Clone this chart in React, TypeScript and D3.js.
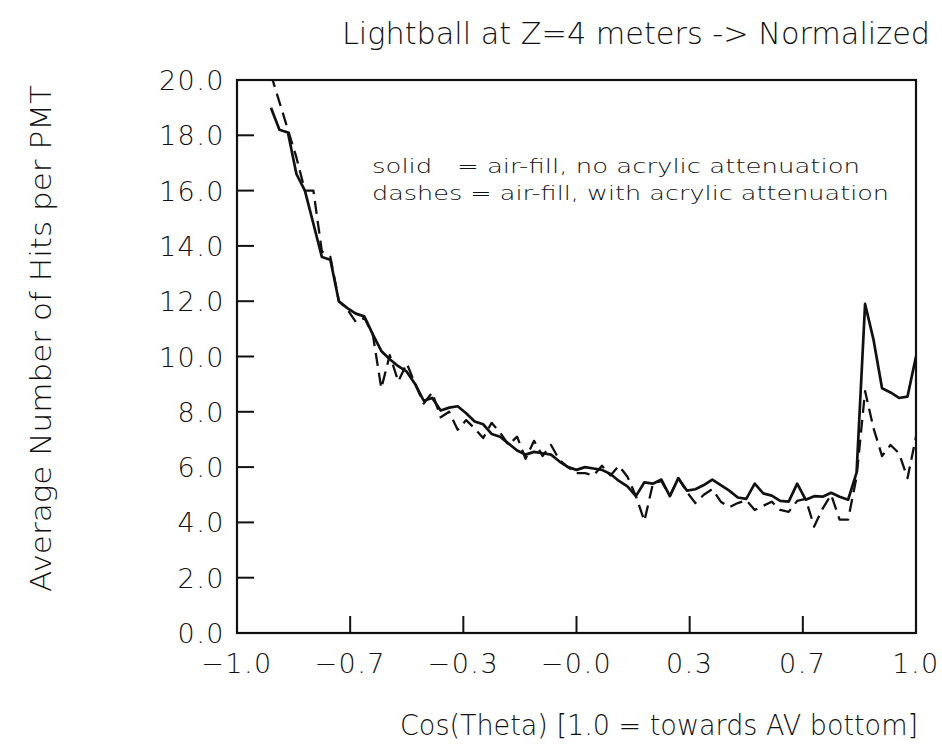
import React from "react";
import * as d3 from "d3";

const cosTheta = [
  -0.9, -0.875, -0.85, -0.825, -0.8, -0.775, -0.75, -0.725, -0.7, -0.675,
  -0.65, -0.625, -0.6, -0.575, -0.55, -0.525, -0.5, -0.475, -0.45, -0.425,
  -0.4, -0.375, -0.35, -0.325, -0.3, -0.275, -0.25, -0.225, -0.2, -0.175,
  -0.15, -0.125, -0.1, -0.075, -0.05, -0.025, 0.0, 0.025, 0.05, 0.075,
  0.1, 0.125, 0.15, 0.175, 0.2, 0.225, 0.25, 0.275, 0.3, 0.325,
  0.35, 0.375, 0.4, 0.425, 0.45, 0.475, 0.5, 0.525, 0.55, 0.575,
  0.6, 0.625, 0.65, 0.675, 0.7, 0.725, 0.75, 0.775, 0.8, 0.825,
  0.85, 0.875, 0.9, 0.925, 0.95, 0.975, 1.0,
];

const solidNoAttenuation = [
  19.0, 18.2, 18.1, 16.6, 16.0, 14.8, 13.6, 13.5, 12.0, 11.75,
  11.55, 11.45, 10.8, 10.2, 9.9, 9.65, 9.45, 9.0, 8.4, 8.5,
  8.05, 8.15, 8.2, 7.95, 7.65, 7.55, 7.2, 7.1, 6.85, 6.6,
  6.45, 6.55, 6.5, 6.45, 6.2, 6.0, 5.9, 6.0, 5.95, 5.9,
  5.75, 5.5, 5.3, 4.95, 5.45, 5.4, 5.55, 4.95, 5.6, 5.15,
  5.2, 5.35, 5.55, 5.35, 5.15, 4.9, 4.85, 5.4, 5.05, 4.97,
  4.78, 4.75, 5.4, 4.82, 4.95, 4.93, 5.07, 4.93, 4.82, 5.8,
  11.9, 10.6, 8.85, 8.7, 8.5, 8.55, 10.0,
];

const dashedWithAttenuation = [
  20.2, 19.2, 18.2, 17.2, 16.0, 16.0, 13.8, 13.6, 12.0, 11.7,
  11.25, 11.4, 10.8, 8.85, 10.05, 9.1, 9.75, 9.0, 8.3, 8.7,
  7.8, 8.0, 7.35, 7.7, 7.4, 7.05, 7.6, 7.25, 6.8, 7.1,
  6.3, 6.95, 6.4, 6.8, 6.25, 6.0, 5.78, 5.78, 5.7, 6.05,
  5.7, 6.05, 5.65, 4.95, 4.05, 5.4, 5.5, 4.95, 5.6, 5.1,
  4.7, 5.0, 5.2, 4.75, 4.55, 4.7, 4.8, 4.45, 4.6, 4.75,
  4.45, 4.38, 4.78, 4.85, 3.85, 4.5, 5.0, 4.1, 4.1, 5.65,
  8.75, 7.4, 6.4, 6.8, 6.5, 5.6, 7.1,
];

const xTickValues = [-1, -2 / 3, -1 / 3, 0, 1 / 3, 2 / 3, 1];
const xTickLabels = ["\u22121.0", "\u22120.7", "\u22120.3", "\u22120.0", "0.3", "0.7", "1.0"];
const yTickValues = [0, 2, 4, 6, 8, 10, 12, 14, 16, 18, 20];
const yTickLabels = ["0.0", "2.0", "4.0", "6.0", "8.0", "10.0", "12.0", "14.0", "16.0", "18.0", "20.0"];

const titleText = "Lightball at Z=4 meters -> Normalized";
const xAxisTitle = "Cos(Theta) [1.0 = towards AV bottom]";
const yAxisTitle = "Average Number of Hits per PMT";
const legendSolid = "solid   = air-fill, no acrylic attenuation";
const legendDashed = "dashes = air-fill, with acrylic attenuation";

const FONT = "'DejaVu Sans', 'Liberation Sans', sans-serif";

export default function App() {
  const left = 237, right = 916, top = 80, bottom = 633;
  const x = d3.scaleLinear().domain([-1, 1]).range([left, right]);
  const y = d3.scaleLinear().domain([0, 20]).range([bottom, top]);
  const line = d3
    .line<number>()
    .x((_, i) => x(cosTheta[i]))
    .y((d) => y(d));
  const tickLen = 17;

  return (
    <svg
      width={942}
      height={755}
      style={{ position: "absolute", left: 0, top: 0, background: "#fff" }}
      fontFamily={FONT}
    >
      <defs>
        <clipPath id="plotClip">
          <rect x={left} y={top} width={right - left} height={bottom - top} />
        </clipPath>
      </defs>
      <rect x={0} y={0} width={942} height={755} fill="#fff" />

      {/* Title */}
      <text x={342} y={44} fontSize={30} fontWeight={200} textLength={588} lengthAdjust="spacingAndGlyphs" fill="#111">
        {titleText}
      </text>

      {/* Frame */}
      <rect x={left} y={top} width={right - left} height={bottom - top} fill="none" stroke="#111" strokeWidth={2.2} />

      {/* Y ticks */}
      {yTickValues.map((v, i) => (
        <g key={"yt" + i}>
          <line x1={left} x2={left + tickLen} y1={y(v)} y2={y(v)} stroke="#111" strokeWidth={2} />
          <text x={225} y={y(v) + 10} fontSize={27} fontWeight={200} textAnchor="end" letterSpacing={1.5} fill="#111">
            {yTickLabels[i]}
          </text>
        </g>
      ))}

      {/* X ticks */}
      {xTickValues.map((v, i) => (
        <g key={"xt" + i}>
          <line x1={x(v)} x2={x(v)} y1={bottom} y2={bottom - tickLen} stroke="#111" strokeWidth={2} />
          <text x={x(v)} y={673} fontSize={27} fontWeight={200} textAnchor="middle" letterSpacing={1.5} fill="#111">
            {xTickLabels[i]}
          </text>
        </g>
      ))}

      {/* Series */}
      <g clipPath="url(#plotClip)">
        <path d={line(dashedWithAttenuation) || ""} fill="none" stroke="#111" strokeWidth={2.3} strokeDasharray="13,7" strokeLinejoin="round" />
        <path d={line(solidNoAttenuation) || ""} fill="none" stroke="#111" strokeWidth={2.7} strokeLinejoin="round" />
      </g>

      {/* Legend text */}
      <text x={372} y={173} fontSize={20} fontWeight={200} textLength={488} lengthAdjust="spacingAndGlyphs" style={{ whiteSpace: "pre" }} fill="#111">
        {legendSolid}
      </text>
      <text x={372} y={200} fontSize={20} fontWeight={200} textLength={517} lengthAdjust="spacingAndGlyphs" style={{ whiteSpace: "pre" }} fill="#111">
        {legendDashed}
      </text>

      {/* Axis titles */}
      <text x={400} y={735} fontSize={28} fontWeight={200} textLength={518} lengthAdjust="spacingAndGlyphs" fill="#111">
        {xAxisTitle}
      </text>
      <text
        transform={`translate(51, 592) rotate(-90)`}
        x={0}
        y={0}
        fontSize={28}
        fontWeight={200}
        textLength={507}
        lengthAdjust="spacingAndGlyphs"
        fill="#111"
      >
        {yAxisTitle}
      </text>
    </svg>
  );
}
